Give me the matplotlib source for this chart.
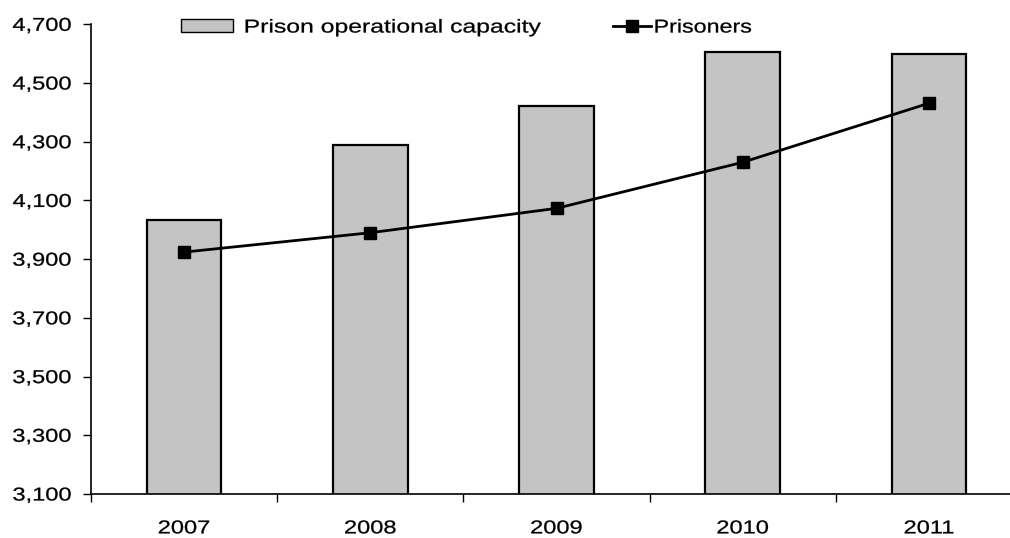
import matplotlib
matplotlib.use("Agg")
import matplotlib.pyplot as plt
from matplotlib.ticker import FixedLocator, FuncFormatter, NullFormatter
from matplotlib import patheffects
from matplotlib.transforms import Affine2D

years = ["2007", "2008", "2009", "2010", "2011"]
capacity = [4034, 4289, 4423, 4606, 4599]
prisoners = [3924, 3990, 4073, 4230, 4431]
yticks = [3100, 3300, 3500, 3700, 3900, 4100, 4300, 4500, 4700]

plt.rcParams['font.family'] = ['Liberation Sans', 'DejaVu Sans']


class StretchX(patheffects.AbstractPathEffect):
    """Stretch rendered text horizontally (scanned look), keeping the aligned edge fixed."""
    def __init__(self, sx, align='left', stroke=0.2):
        super().__init__()
        self.sx = sx
        self.align = align
        self.stroke = stroke

    def draw_path(self, renderer, gc, tpath, affine, rgbFace=None):
        ext = tpath.get_extents()
        if self.align == 'right':
            ref = ext.x1
        elif self.align == 'center':
            ref = (ext.x0 + ext.x1) / 2
        else:
            ref = ext.x0
        t = Affine2D().translate(-ref, 0).scale(self.sx, 1).translate(ref, 0) + affine
        gc0 = renderer.new_gc()
        gc0.copy_properties(gc)
        gc0.set_linewidth(self.stroke)
        if rgbFace is not None:
            gc0.set_foreground(rgbFace)
        renderer.draw_path(gc0, tpath, t, rgbFace)
        gc0.restore()


FS = 13.4
SX = 1.27

fig = plt.figure(figsize=(10.10, 5.38), dpi=100)
ax = fig.add_axes([91/1010, 1-494/538, (1022-91)/1010, (494-24.3)/538])

x = list(range(len(years)))
bars = ax.bar(x, capacity, width=0.4, color='#c4c4c4', edgecolor='black',
              linewidth=1.6, label='Prison operational capacity', zorder=2)
line, = ax.plot(x, prisoners, color='black', linewidth=2, marker='s', markersize=8,
                label='Prisoners', zorder=3)

ax.set_ylim(3100, 4700)
ax.set_xlim(-0.5, 4.5)
ax.set_yticks(yticks)
ax.yaxis.set_major_formatter(FuncFormatter(lambda v, p: f"{int(v):,}"))
ax.tick_params(axis='y', labelsize=FS, length=6, width=1, pad=8, direction='out')

ax.xaxis.set_major_locator(FixedLocator([i - 0.5 for i in range(len(years) + 1)]))
ax.xaxis.set_major_formatter(NullFormatter())
ax.xaxis.set_minor_locator(FixedLocator(x))
ax.set_xticklabels(years, minor=True)
ax.tick_params(axis='x', which='major', length=6, width=1, direction='out')
ax.tick_params(axis='x', which='minor', length=0, labelsize=FS, pad=19)

for s in ['top', 'right']:
    ax.spines[s].set_visible(False)
for s in ['left', 'bottom']:
    ax.spines[s].set_linewidth(1.2)
    ax.spines[s].set_color('black')

fs_px = FS * 100 / 72
leg1 = fig.legend(handles=[bars], loc='center left',
                  bbox_to_anchor=(181/1010, 1-28/538), frameon=False, fontsize=FS,
                  handlelength=52/fs_px, handleheight=13/fs_px, handletextpad=0.6,
                  borderpad=0, borderaxespad=0)
leg2 = fig.legend(handles=[line], loc='center left',
                  bbox_to_anchor=(613/1010, 1-28/538), frameon=False, fontsize=FS,
                  handlelength=38/fs_px, handletextpad=0.16,
                  borderpad=0, borderaxespad=0)
for p in leg1.get_patches():
    p.set_linewidth(1.0)

fig.canvas.draw()
for t in ax.get_yticklabels():
    t.set_path_effects([StretchX(SX, 'right')])
for t in ax.get_xticklabels(minor=True):
    t.set_path_effects([StretchX(SX, 'center')])
for t in leg1.get_texts():
    t.set_path_effects([StretchX(1.33, 'left')])
for t in leg2.get_texts():
    t.set_path_effects([StretchX(1.25, 'left')])

fig.savefig('out.png', dpi=100)
